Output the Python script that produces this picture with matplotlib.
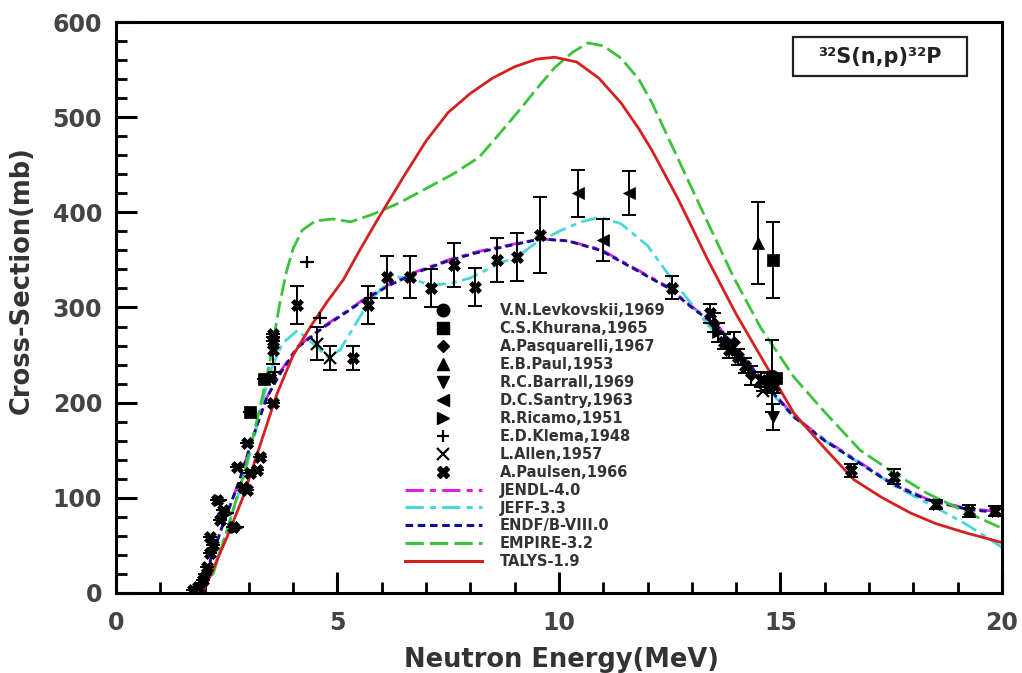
import matplotlib
matplotlib.use("Agg")
import matplotlib.pyplot as plt
from matplotlib.lines import Line2D
from matplotlib.patches import Rectangle

# ---------------- evaluated curves ----------------
talys_E = [1.95, 2.12, 2.5, 2.87, 3.25, 3.64, 4.0, 4.38, 4.75, 5.13, 5.5, 5.9, 6.5, 7.0, 7.5, 8.0,
           8.5, 9.0, 9.5, 9.9, 10.4, 10.9, 11.4, 11.8, 12.1, 12.7, 13.36, 14.0, 14.7, 15.3, 16.0,
           16.66, 17.3, 17.94, 18.5, 19.2, 20.0]
talys_S = [0, 17, 58, 101, 155, 210, 250, 279, 305, 329, 360, 392, 438, 475, 505, 525,
           541, 553, 561, 563, 558, 541, 515, 488, 465, 413, 350, 293, 237, 189, 152,
           119, 100, 84, 73, 63, 53]

empire_E = [1.85, 2.2, 2.5, 2.87, 3.1, 3.3, 3.48, 3.6, 3.7, 3.85, 4.0, 4.2, 4.5, 4.9, 5.3, 5.8,
            6.4, 7.0, 7.6, 8.2, 8.7, 9.1, 9.5, 9.9, 10.3, 10.65, 11.0, 11.4, 11.8, 12.1, 12.6,
            13.3, 13.94, 14.55, 15.3, 16.0, 16.8, 17.5, 18.3, 19.1, 20.0]
empire_S = [0, 21, 65, 122, 165, 205, 245, 278, 305, 338, 362, 381, 391, 393, 390, 398,
            410, 425, 440, 458, 485, 507, 530, 552, 568, 578, 575, 562, 540, 515, 465,
            395, 332, 279, 227, 190, 150, 128, 105, 87, 68]

jeff_E = [1.9, 2.2, 2.5, 2.87, 3.1, 3.3, 3.5, 3.75, 4.1, 4.45, 4.77, 5.05, 5.4, 5.74, 6.27, 6.6,
          7.1, 7.6, 8.0, 8.68, 9.06, 9.42, 10.0, 10.5, 10.94, 11.4, 12.0, 12.45, 12.8, 13.4,
          14.0, 14.6, 15.3, 16.0, 16.8, 17.6, 18.5, 19.2, 20.0]
jeff_S = [0, 25, 65, 120, 160, 200, 235, 262, 276, 262, 248, 255, 282, 308, 332, 332,
          323, 326, 331, 347, 353, 366, 380, 390, 395, 388, 365, 336, 315, 280,
          250, 220, 185, 160, 136, 112, 90, 72, 48]

endf_E = [1.85, 2.1, 2.4, 2.8, 3.1, 3.4, 3.7, 4.1, 4.68, 5.2, 5.67, 6.2, 6.8, 7.5, 8.1, 8.68,
          9.58, 10.2, 10.94, 11.6, 12.45, 13.0, 13.6, 14.2, 14.8, 15.3, 16.0, 16.8, 17.5,
          18.3, 19.2, 20.0]
endf_S = [0, 30, 70, 120, 165, 205, 230, 258, 279, 295, 310, 324, 337, 349, 357, 363,
          372, 370, 360, 343, 321, 300, 279, 245, 212, 185, 160, 136, 115,
          98, 88, 84]

jendl_E = [1.85, 2.1, 2.4, 2.8, 3.1, 3.4, 3.7, 4.1, 4.68, 5.2, 5.67, 6.2, 6.8, 7.5, 8.1, 8.68,
           9.58, 10.2, 10.94, 11.6, 12.45, 13.0, 13.6, 14.2, 14.8, 15.3, 16.0, 16.8, 17.5,
           18.3, 19.2, 20.0]
jendl_S = [0, 30, 70, 120, 165, 205, 232, 259, 280, 296, 311, 325, 338, 350, 358, 364,
           372, 370, 361, 344, 322, 301, 280, 246, 213, 186, 161, 137, 116,
           99, 89, 85]

# ---------------- experimental data ----------------
levk_E, levk_S, levk_err = [14.8], [228], [38]
khur_E, khur_S, khur_err = [3.03, 3.35, 14.82, 14.9], [190, 225, 350, 226], [0, 0, 40, 0]
pasq_E, pasq_S, pasq_err = [1.9, 2.0, 13.5, 13.95, 14.33, 14.7], [8, 20, 284, 264, 229, 221], [0, 0, 10, 10, 10, 10]
paul_E, paul_S, paul_err = [14.49], [368], [43]
barr_E, barr_S, barr_err = [14.83], [185], [14]
santry_E, santry_S, santry_err = [10.42, 11.0, 11.57], [420, 371, 420], [25, 22, 23]
ricamo_E, ricamo_S, ricamo_err = [2.35, 2.51, 2.73, 13.6], [98, 84, 69, 274], [0, 0, 0, 10]
klema_E, klema_S, klema_err = [3.6, 4.32, 4.6, 5.75], [232, 348, 289, 310], [0, 0, 0, 0]
allen_E, allen_S, allen_err = [4.54, 4.84, 14.6], [262, 247, 212], [17, 13, 0]
paulsen_E = [1.74, 1.85, 1.97, 2.06, 2.12, 2.12, 2.2, 2.28, 2.35, 2.42, 2.64, 2.73, 2.87, 2.96,
             2.96, 3.03, 3.18, 3.25, 3.48, 3.55, 3.55, 3.55, 3.55, 4.08, 5.36, 5.7, 6.12, 6.64,
             7.1, 7.62, 8.1, 8.6, 9.06, 9.58, 12.56, 13.42, 13.72, 13.83, 14.05, 14.2, 14.55,
             14.85, 16.6, 17.57, 18.5, 19.26, 19.85]
paulsen_S = [3, 6, 14, 27, 42, 59, 50, 98, 77, 87, 69, 132, 111, 158,
             108, 126, 129, 143, 226, 200, 255, 265, 272, 303, 247, 303, 332, 332,
             320, 345, 322, 350, 353, 376, 321, 294, 264, 255, 248, 239, 224,
             218, 129, 122, 93, 86, 86]
paulsen_err = [0, 0, 0, 0, 0, 0, 0, 0, 0, 0, 0, 0, 0, 0,
               0, 0, 0, 0, 0, 0, 14, 0, 0, 20, 13, 20, 22, 22,
               20, 23, 20, 23, 25, 40, 12, 10, 8, 8, 8, 8, 8,
               8, 7, 8, 5, 6, 5]

exp_labels = ["V.N.Levkovskii,1969", "C.S.Khurana,1965", "A.Pasquarelli,1967", "E.B.Paul,1953",
              "R.C.Barrall,1969", "D.C.Santry,1963", "R.Ricamo,1951", "E.D.Klema,1948",
              "L.Allen,1957", "A.Paulsen,1966"]
curve_labels = ["JENDL-4.0", "JEFF-3.3", "ENDF/B-VIII.0", "EMPIRE-3.2", "TALYS-1.9"]

x_ticks = [0, 5, 10, 15, 20]
y_ticks = [0, 100, 200, 300, 400, 500, 600]

# ---------------- figure ----------------
fig = plt.figure(figsize=(10.22, 6.73), dpi=100)
ax = fig.add_axes([0.1135, 0.1189, 0.8669, 0.8484])

exp_sets = [
    (levk_E, levk_S, levk_err, 'o', 9),
    (khur_E, khur_S, khur_err, 's', 9),
    (pasq_E, pasq_S, pasq_err, 'D', 6),
    (paul_E, paul_S, paul_err, '^', 9),
    (barr_E, barr_S, barr_err, 'v', 9),
    (santry_E, santry_S, santry_err, '<', 9),
    (ricamo_E, ricamo_S, ricamo_err, '>', 9),
    (klema_E, klema_S, klema_err, '+', 9),
    (allen_E, allen_S, allen_err, 'x', 8),
    (paulsen_E, paulsen_S, paulsen_err, 'X', 9),
]

curve_styles = [
    (jendl_E, jendl_S, '#e020e0', (0, (6, 2, 2, 2))),
    (jeff_E, jeff_S, '#48d8d8', (0, (6, 2, 2, 2))),
    (endf_E, endf_S, '#101090', (0, (2.5, 1.5))),
    (empire_E, empire_S, '#3cc23c', (0, (6, 2))),
    (talys_E, talys_S, '#d42020', '-'),
]

for E, S, c, ls in curve_styles:
    ax.plot(E, S, color=c, linestyle=ls, linewidth=2.0, zorder=2)

for E, S, err, m, ms in exp_sets:
    ax.errorbar(E, S, yerr=err, fmt='none', ecolor='black', elinewidth=1.4,
                capsize=5, capthick=1.4, zorder=3)
    if m in ('+', 'x'):
        ax.plot(E, S, linestyle='none', marker=m, color='black', markersize=ms,
                markeredgewidth=1.6, zorder=4)
    else:
        ax.plot(E, S, linestyle='none', marker=m, color='black', markersize=ms,
                markeredgewidth=0.5, zorder=4)

ax.set_xlim(0, 20)
ax.set_ylim(0, 600)
ax.set_xticks(x_ticks)
ax.set_yticks(y_ticks)
ax.set_xticks([i for i in range(0, 21)], minor=True)
ax.set_yticks([i for i in range(0, 601, 20)], minor=True)
ax.tick_params(which='major', direction='in', length=15, width=2.2, top=False, right=False)
ax.tick_params(which='minor', direction='in', length=8, width=2.0, top=False, right=False)
ax.tick_params(axis='x', which='major', pad=13)
ax.tick_params(axis='y', which='major', pad=10)
for lab in ax.get_xticklabels() + ax.get_yticklabels():
    lab.set_fontsize(17)
    lab.set_fontweight('bold')
    lab.set_color('#444444')
for sp in ax.spines.values():
    sp.set_linewidth(2.2)

ax.set_xlabel("Neutron Energy(MeV)", fontsize=18.5, fontweight='bold', color='#333333')
ax.set_ylabel("Cross-Section(mb)", fontsize=18.5, fontweight='bold', color='#333333')
ax.xaxis.label.set_va('center')
ax.yaxis.label.set_va('center')
ax.xaxis.set_label_coords(0.503, -0.117)
ax.yaxis.set_label_coords(-0.106, 0.548)

# reaction box
ax.add_patch(Rectangle((0.764, 0.905), 0.196, 0.069, transform=ax.transAxes,
                       fill=True, facecolor='white', edgecolor='#222222', linewidth=1.6, zorder=5))
ax.text(0.862, 0.939, "³²S(n,p)³²P", transform=ax.transAxes, ha='center', va='center',
        fontsize=15, fontweight='bold', color='#222222', zorder=6)

# legend
handles = []
for (E, S, err, m, ms), lab in zip(exp_sets, exp_labels):
    if m in ('+', 'x'):
        handles.append(Line2D([], [], linestyle='none', marker=m, color='black',
                              markersize=ms, markeredgewidth=1.6, label=lab))
    else:
        handles.append(Line2D([], [], linestyle='none', marker=m, color='black',
                              markersize=ms, label=lab))
for (E, S, c, ls), lab in zip(curve_styles, curve_labels):
    handles.append(Line2D([], [], color=c, linestyle=ls, linewidth=2.2, label=lab))

leg = ax.legend(handles=handles, loc='upper left', bbox_to_anchor=(0.326, 0.507),
                frameon=False, fontsize=10.5, handlelength=5.3, handletextpad=1.2,
                labelspacing=0.2, borderpad=0, borderaxespad=0)
for t in leg.get_texts():
    t.set_fontweight('bold')
    t.set_color('#333333')

fig.savefig("out.png", dpi=100)
